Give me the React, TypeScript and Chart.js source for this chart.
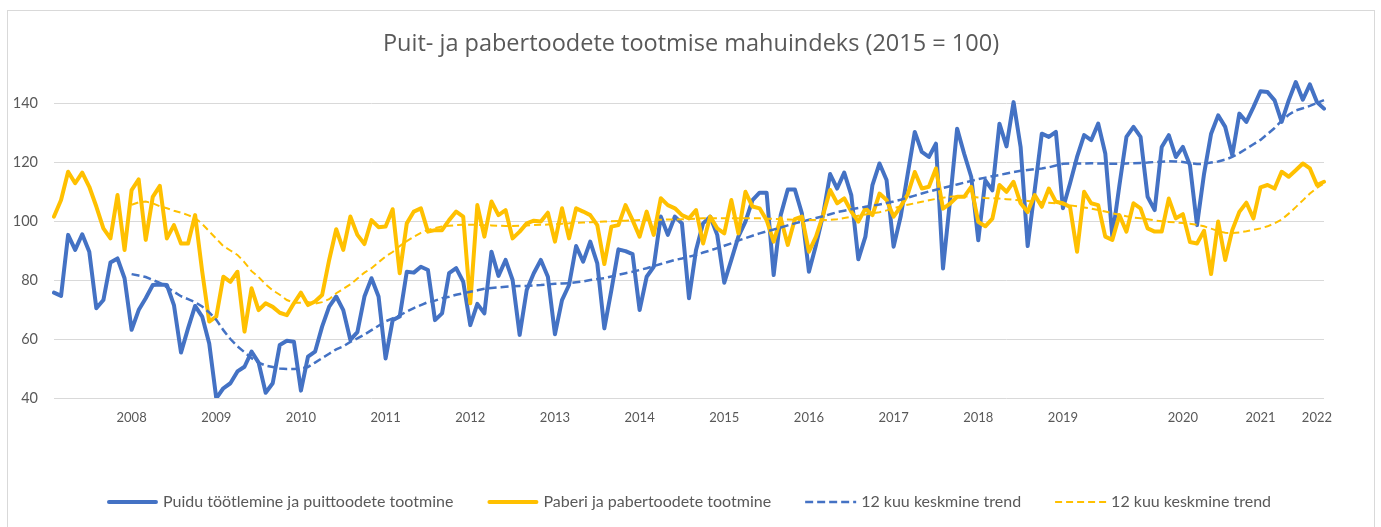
import React, { useEffect, useRef } from 'react';
import { Chart, registerables } from 'chart.js';

Chart.register(...registerables);

// ---------- text ----------
const chartTitle = 'Puit- ja pabertoodete tootmise mahuindeks (2015 = 100)';
const seriesNames = [
  'Puidu töötlemine ja puittoodete tootmine',
  'Paberi ja pabertoodete tootmine',
  '12 kuu keskmine trend',
  '12 kuu keskmine trend',
];

// ---------- categories (monthly, Jan 2007 .. Jan 2022) ----------
const firstYear = 2007;
const monthCount = 181;
const yearLabels = ['2008', '2009', '2010', '2011', '2012', '2013', '2014', '2015', '2016', '2017', '2018', '2019', '2020', '2021', '2022'];
const yearLabelMonths = ['2007-12', '2008-12', '2009-12', '2010-12', '2011-12', '2012-12', '2013-12', '2014-12', '2015-12', '2016-12', '2017-12', '2018-12', '2020-05', '2021-04', '2021-12'];

// ---------- value axis ----------
const yTickValues = [40, 60, 80, 100, 120, 140];
const yMin = 40;
const yMax = 150;

// ---------- series ----------
const woodIndex = [
  75.7, 74.6, 95.3, 90.2, 95.5, 89.6, 70.4, 73.2, 85.9, 87.3,
  80.6, 63.1, 69.8, 73.8, 78.3, 78.5, 78.3, 71.5, 55.4, 63.6,
  71.2, 67.6, 58.5, 39.9, 43.3, 45, 49, 50.6, 55.7, 52,
  41.8, 45, 58, 59.4, 59.1, 42.5, 54, 55.7, 64.2, 71,
  74.4, 69.8, 59.7, 62.3, 74.4, 80.6, 74.4, 53.4, 66.4, 67.6,
  82.8, 82.5, 84.5, 83.4, 66.4, 68.7, 82.3, 84, 79.4, 64.7,
  71.9, 68.7, 89.6, 81.4, 86.8, 80, 61.4, 76.6, 82.3, 86.8,
  81.1, 61.6, 73.2, 78.3, 91.5, 86.2, 93, 85.6, 63.6, 76.6,
  90.4, 89.8, 88.8, 69.8, 81.1, 84.5, 101.5, 95.3, 101.5, 99.2,
  73.8, 90.2, 99.2, 101.5, 95.3, 79.1, 86.8, 94.7, 99.8, 107.1,
  109.6, 109.6, 81.7, 102, 110.7, 110.7, 102.6, 82.8, 91.9, 102,
  115.9, 111, 116.4, 108.8, 87, 94.7, 112.2, 119.5, 113.9, 91.3,
  101.5, 116, 130.2, 123.4, 121.7, 126.2, 83.9, 107, 131.3, 122.8,
  115, 93.5, 113.8, 110.4, 133, 125.3, 140.3, 125.1, 91.5, 110.5,
  129.6, 128.5, 130.2, 104.3, 112.7, 121.7, 129.1, 127.4, 133, 122.9,
  94.7, 112, 128.5, 131.9, 128.5, 108.2, 103.7, 125.1, 129.1, 121.7,
  125.1, 118.9, 98.6, 116, 129.6, 135.8, 131.9, 122.3, 136.4, 133.6,
  138.6, 144, 143.7, 140.9, 133.6, 140.9, 147.1, 141.1, 146.3, 140.3, 138.1,
];

const paperIndex = [
  101.5, 107.1, 116.7, 112.8, 116.4, 111.6, 104.9, 97.5, 94.1, 108.8,
  90.2, 110.5, 114.1, 93.6, 108.2, 111.9, 94.1, 98.6, 92.4, 92.4,
  102, 83, 65.9, 67.6, 81.1, 79.4, 82.8, 62.5, 77.2, 69.8,
  72.1, 70.9, 68.9, 68.1, 72.1, 75.7, 71.5, 72.7, 74.9, 86.8,
  97.2, 90.2, 101.5, 95.3, 92.2, 100.3, 97.9, 98.1, 104, 82.3,
  99.2, 103.2, 104.3, 96.4, 96.9, 96.9, 100.3, 103.2, 101.5, 72.1,
  105.4, 94.7, 106.6, 102, 103.7, 94.1, 96.4, 99.2, 100.1, 99.8,
  102.8, 93, 104.3, 94.1, 104.3, 103.2, 102, 98.6, 85.4, 98.1,
  98.6, 105.4, 100.3, 94.7, 103.2, 95.3, 107.7, 105.4, 104.3, 102,
  100.9, 103.7, 92.4, 101.5, 97.5, 95.8, 107.1, 95.8, 109.9, 104.9,
  104.3, 100.3, 93, 100.9, 91.9, 100.6, 101.5, 89.6, 94.7, 102,
  110.5, 106, 107.7, 103.2, 99.8, 104.3, 102, 109.3, 107.1, 101.5,
  104.9, 109, 116.6, 111, 111.6, 117.8, 104.2, 105.9, 108.2, 108.2,
  111.6, 99.7, 98.2, 100.8, 112.2, 109.9, 113.3, 106, 103.1, 108.8,
  104.8, 111, 106.5, 106, 104.8, 89.6, 109.9, 106, 105.4, 94.7,
  93.6, 102, 96.4, 106, 104.3, 97.5, 96.4, 96.4, 107.6, 100.9,
  102.3, 92.9, 92.4, 96.7, 82, 99.8, 86.8, 96.9, 103.1, 106.2,
  100.9, 111.4, 112.2, 111, 116.7, 115, 117.2, 119.5, 117.8, 112.2, 113.3,
];

// 12-month moving averages, first value in Dec 2007
const trendStartMonth = '2007-12';

const woodTrend = [
  82, 81.5, 81, 80, 79, 77.5, 76, 74.5, 73.5, 72.5,
  71, 69, 66.5, 63, 60, 57.5, 55.5, 53.5, 52, 51,
  50.5, 50, 49.8, 49.8, 50, 50.5, 52, 53.5, 55, 56.5,
  57.5, 59, 60.2, 61.5, 63, 64.5, 66, 67, 68, 69.3,
  70.5, 71.5, 72.5, 73, 73.8, 74.3, 75, 75.5, 76, 76.5,
  77, 77.3, 77.5, 77.7, 77.9, 78, 78, 78.2, 78.3, 78.5,
  78.7, 78.8, 78.9, 79.2, 79.5, 80, 80.3, 80.6, 81.2, 81.8,
  82.3, 82.8, 83.4, 84, 84.7, 85.4, 86.1, 86.8, 87.3, 87.9,
  88.5, 89.3, 90, 90.8, 91.6, 92.4, 93.4, 94.2, 95, 95.8,
  96.5, 97.1, 97.8, 98.5, 99.2, 99.8, 100.4, 101, 101.6, 102.3,
  103, 103.5, 104, 104.4, 104.8, 105.2, 105.6, 106.1, 106.6, 107.2,
  107.9, 108.6, 109.3, 110, 110.6, 111.2, 111.8, 112.4, 113, 113.6,
  114.2, 114.7, 115.2, 115.6, 116.1, 116.6, 117, 117.3, 117.6, 117.8,
  118.2, 118.8, 119.4, 119.5, 119.5, 119.5, 119.6, 119.5, 119.5, 119.4,
  119.4, 119.5, 119.6, 119.7, 119.8, 120, 120.1, 120.3, 120.2, 120,
  119.6, 119.3, 119.4, 119.8, 120.2, 120.8, 121.7, 123, 124.5, 126,
  127.5, 129.5, 131.5, 134, 136, 137.5, 138.2, 139, 140, 141,
];

const paperTrend = [
  105.5, 106.3, 106.6, 106, 105, 104.3, 103.5, 102.8, 102, 101,
  99, 96.5, 94, 91.5, 90, 88.5, 86, 83, 81, 78.5,
  76.5, 75, 73.2, 72.3, 72.3, 72.5, 72, 72.5, 73.5, 75.5,
  77, 78.5, 80.5, 82.5, 84, 86, 88, 89.5, 91.5, 93.2,
  94.7, 96, 97, 97.6, 98.1, 98.4, 98.6, 98.7, 98.7, 98.7,
  98.6, 98.5, 98.4, 98.3, 98.3, 98.4, 98.5, 98.6, 98.7, 98.8,
  98.9, 99.1, 99.2, 99.4, 99.5, 99.6, 99.7, 99.8, 99.9, 100,
  100.1, 100.2, 100.3, 100.3, 100.4, 100.4, 100.5, 100.5, 100.6, 100.7,
  100.8, 100.9, 100.9, 100.9, 100.9, 100.9, 100.9, 100.9, 100.9, 100.9,
  100.8, 100.7, 100.6, 100.5, 100.4, 100.3, 100.3, 100.3, 100.3, 100.4,
  100.6, 101, 101.4, 101.8, 102.2, 102.6, 103, 103.6, 104.3, 105,
  105.5, 106, 106.5, 107, 107.5, 107.9, 108.2, 108.4, 108.4, 108.2,
  108, 107.8, 107.7, 107.6, 107.4, 107.2, 107, 106.8, 106.6, 106.4,
  106.2, 106, 105.6, 105.3, 105, 104.6, 104.2, 103.7, 103.2, 102.6,
  102.1, 101.6, 101.2, 100.9, 100.6, 100.2, 99.9, 99.7, 99.5, 99.3,
  99.1, 98.7, 98.2, 97.4, 96.6, 96, 95.9, 96.1, 96.5, 97,
  97.5, 98.2, 99.2, 100.5, 102.5, 104.7, 107, 109.3, 111.2, 112.7,
];

// ---------- styles ----------
const BLUE = '#4472C4';
const YELLOW = '#FFC000';
const TEXT = '#595959';
const GRID = '#d9d9d9';
const CANVAS_W = 1366;
const CANVAS_H = 516;

const months: string[] = [];
for (let i = 0; i < monthCount; i++) {
  const y = firstYear + Math.floor(i / 12);
  const m = (i % 12) + 1;
  months.push(`${y}-${m < 10 ? '0' + m : m}`);
}

function withLead(values: number[]): (number | null)[] {
  const start = months.indexOf(trendStartMonth);
  const lead: (number | null)[] = [];
  for (let i = 0; i < start; i++) lead.push(null);
  return lead.concat(values);
}

function axisLabel(month: string): string {
  const k = yearLabelMonths.indexOf(month);
  return k >= 0 ? yearLabels[k] : '';
}

const overlayPlugin = {
  id: 'overlay',
  afterDraw(chart: any) {
    const ctx = chart.ctx as CanvasRenderingContext2D;
    ctx.save();
    // title
    ctx.fillStyle = TEXT;
    ctx.font = "23.5px 'Open Sans'";
    ctx.textAlign = 'center';
    ctx.textBaseline = 'middle';
    ctx.fillText(chartTitle, 683, 33);

    // legend
    ctx.font = "16px Lato";
    ctx.textAlign = 'left';
    const sample = 51;
    const gap = 5;
    const itemGap = 34;
    const ds = chart.data.datasets;
    const widths = ds.map((d: any) => ctx.measureText(d.label).width);
    let total = 0;
    ds.forEach((d: any, i: number) => {
      total += sample + gap + widths[i];
    });
    total += itemGap * (ds.length - 1);
    let x = 681 - total / 2;
    const y = 491;
    ds.forEach((d: any, i: number) => {
      ctx.beginPath();
      ctx.strokeStyle = d.borderColor;
      ctx.lineWidth = d.borderWidth;
      ctx.lineCap = d.borderDash ? 'butt' : 'round';
      ctx.setLineDash(d.borderDash || []);
      const inset = d.borderDash ? 0 : d.borderWidth / 2;
      ctx.moveTo(x + inset, y);
      ctx.lineTo(x + sample - inset, y);
      ctx.stroke();
      ctx.setLineDash([]);
      ctx.fillStyle = TEXT;
      ctx.fillText(d.label, x + sample + gap, y);
      x += sample + gap + widths[i] + itemGap;
    });
    ctx.restore();
  },
};

export default function App() {
  const canvasRef = useRef<HTMLCanvasElement | null>(null);

  useEffect(() => {
    const canvas = canvasRef.current;
    if (!canvas) return;
    const chart = new Chart(canvas, {
      type: 'line',
      data: {
        labels: months,
        datasets: [
          {
            label: seriesNames[0],
            data: woodIndex,
            borderColor: BLUE,
            backgroundColor: BLUE,
            borderWidth: 4,
            pointRadius: 0,
            tension: 0,
            borderJoinStyle: 'round',
            borderCapStyle: 'round',
            order: 4,
          },
          {
            label: seriesNames[1],
            data: paperIndex,
            borderColor: YELLOW,
            backgroundColor: YELLOW,
            borderWidth: 4,
            pointRadius: 0,
            tension: 0,
            borderJoinStyle: 'round',
            borderCapStyle: 'round',
            order: 3,
          },
          {
            label: seriesNames[2],
            data: withLead(woodTrend),
            borderColor: BLUE,
            backgroundColor: BLUE,
            borderWidth: 2.5,
            borderDash: [8, 4],
            pointRadius: 0,
            tension: 0,
            order: 2,
          },
          {
            label: seriesNames[3],
            data: withLead(paperTrend),
            borderColor: YELLOW,
            backgroundColor: YELLOW,
            borderWidth: 2,
            borderDash: [7, 4],
            pointRadius: 0,
            tension: 0,
            order: 1,
          },
        ],
      } as any,
      options: {
        responsive: false,
        animation: false,
        events: [],
        layout: { padding: { top: 62.5, right: 50, left: 0, bottom: 89 } },
        plugins: {
          legend: { display: false },
          title: { display: false },
          tooltip: { enabled: false },
        },
        scales: {
          x: {
            type: 'category',
            grid: { display: false },
            border: { display: false },
            ticks: {
              autoSkip: false,
              maxRotation: 0,
              minRotation: 0,
              padding: 4,
              color: TEXT,
              font: { family: 'Lato', size: 13 },
              callback: (_v: any, i: number) => axisLabel(months[i]),
            },
            afterFit: (s: any) => {
              s.height = 40;
            },
          },
          y: {
            min: yMin,
            max: yMax,
            grid: { color: GRID, lineWidth: 1, drawTicks: false },
            border: { display: false },
            ticks: {
              padding: 16,
              color: TEXT,
              font: { family: 'Lato', size: 14.5 },
            },
            afterBuildTicks: (s: any) => {
              s.ticks = yTickValues.map((v) => ({ value: v }));
            },
            afterFit: (s: any) => {
              s.width = 46;
            },
          },
        },
      } as any,
      plugins: [overlayPlugin],
    });
    return () => chart.destroy();
  }, []);

  return (
    <div
      style={{
        position: 'fixed',
        left: 7,
        top: 10,
        width: CANVAS_W,
        height: 530,
        borderLeft: '1px solid #d9d9d9',
        borderTop: '1px solid #d9d9d9',
        borderRight: '1px solid #d9d9d9',
        background: '#fff',
      }}
    >
      <canvas ref={canvasRef} width={CANVAS_W} height={CANVAS_H} style={{ display: 'block' }} />
    </div>
  );
}
